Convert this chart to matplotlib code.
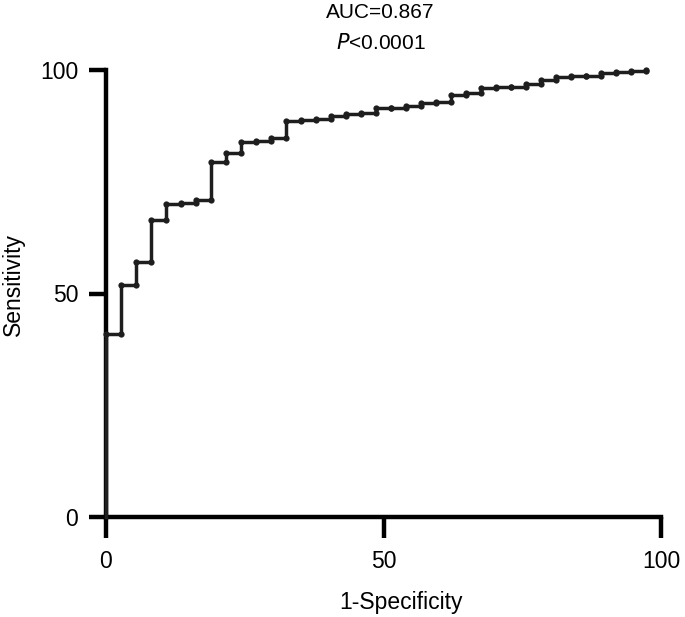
import numpy as np
import matplotlib
matplotlib.use("Agg")
import matplotlib.pyplot as plt

# =============================
# DATA
# =============================
n_neg = 37
fpr = [k * 100 / n_neg for k in range(n_neg)]          # 1-Specificity (%)
sens = [41, 52, 57, 66.5, 70, 70.3, 71, 79.5, 81.5, 84,
        84.2, 84.8, 88.6, 88.8, 89.1, 89.6, 90.1, 90.3, 91.4, 91.6,
        91.9, 92.6, 92.8, 94.5, 94.8, 96.0, 96.2, 96.3, 96.9, 97.8,
        98.5, 98.6, 98.7, 99.3, 99.5, 99.8, 100]        # Sensitivity (%)

x_ticks = [0, 50, 100]
y_ticks = [0, 50, 100]
title_auc = "AUC=0.867"
title_p = "<0.0001"

plt.rcParams["font.family"] = ["Liberation Sans", "DejaVu Sans"]

fig = plt.figure(figsize=(6.85, 6.17), dpi=100)
ax = fig.add_axes([106 / 685, 1 - 517 / 617, 555 / 685, 447 / 617])

# step line: start at (0,0), then each point holds until the next x
xs = [0] + fpr
ys = [0] + sens
ax.plot(xs, ys, drawstyle="steps-post", color="#1e1e1e", lw=2.5,
        clip_on=False, zorder=3)

# dots at both corners of every step
x_dots = fpr[1:] + fpr
y_dots = sens[:-1] + sens
ax.plot(x_dots, y_dots, "o", color="#1e1e1e", ms=4.5, mew=0,
        clip_on=False, zorder=4)

ax.set_xlim(0, 100)
ax.set_ylim(0, 100)
ax.set_xticks(x_ticks)
ax.set_yticks(y_ticks)

for side in ["top", "right"]:
    ax.spines[side].set_visible(False)
for side in ["left", "bottom"]:
    ax.spines[side].set_linewidth(3.2)
    ax.spines[side].set_color("black")

ax.tick_params(axis="x", direction="out", length=15, width=3.2,
               pad=9, labelsize=16.5)
ax.tick_params(axis="y", direction="out", length=12, width=3.2,
               pad=8, labelsize=16.5)

# title (two lines, P in italic)
fig.text(380 / 685, 1 - 13 / 617, title_auc, ha="center", va="center",
         fontsize=15)
fig.text(381 / 685, 1 - 43 / 617, r"$\it{P}$" + title_p, ha="center",
         va="center", fontsize=15)

# axis labels
fig.text(401 / 685, 1 - 603 / 617, "1-Specificity", ha="center",
         va="center", fontsize=16.5)
fig.text(13 / 685, 1 - 284 / 617, "Sensitivity", ha="center",
         va="center", rotation=90, fontsize=16.5)

fig.savefig("out.png", dpi=100)
